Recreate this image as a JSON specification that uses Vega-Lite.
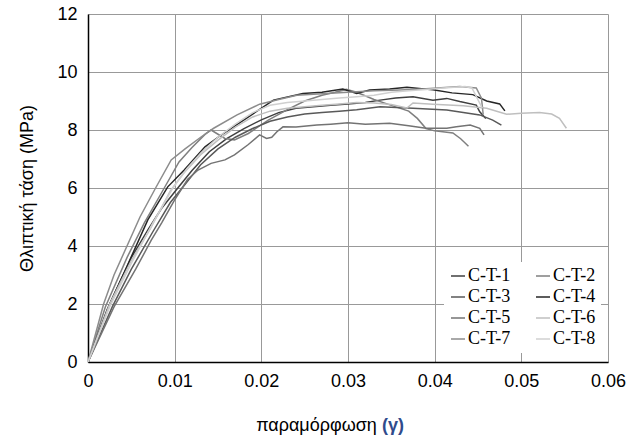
{
  "$schema": "https://vega.github.io/schema/vega-lite/v6.json",
  "width": 520,
  "height": 348,
  "autosize": {"type": "none"},
  "padding": {"left": 88, "top": 14, "right": 21, "bottom": 74},
  "background": "white",
  "config": {
    "view": {"stroke": null},
    "font": "Liberation Sans"
  },
  "title": {
    "text": "(γ)",
    "orient": "bottom",
    "anchor": "middle",
    "frame": "group",
    "dx": 45,
    "dy": -21,
    "fontSize": 18,
    "fontWeight": "bold",
    "color": "#2f4b8c",
    "font": "Liberation Sans"
  },
  "data": {
    "values": [
      {"s":"C-T-1","x":0,"y":0},{"s":"C-T-1","x":0.0025,"y":2.0},{"s":"C-T-1","x":0.005,"y":3.6},{"s":"C-T-1","x":0.007,"y":4.6},{"s":"C-T-1","x":0.0085,"y":5.3},{"s":"C-T-1","x":0.0105,"y":6.05},{"s":"C-T-1","x":0.012,"y":6.6},{"s":"C-T-1","x":0.014,"y":7.25},{"s":"C-T-1","x":0.016,"y":7.7},{"s":"C-T-1","x":0.018,"y":8.05},{"s":"C-T-1","x":0.02,"y":8.35},{"s":"C-T-1","x":0.022,"y":8.6},{"s":"C-T-1","x":0.024,"y":8.75},{"s":"C-T-1","x":0.026,"y":8.8},{"s":"C-T-1","x":0.028,"y":8.85},{"s":"C-T-1","x":0.03,"y":8.9},{"s":"C-T-1","x":0.032,"y":8.95},{"s":"C-T-1","x":0.0337,"y":9.03},{"s":"C-T-1","x":0.0355,"y":9.1},{"s":"C-T-1","x":0.0375,"y":9.15},{"s":"C-T-1","x":0.0398,"y":9.03},{"s":"C-T-1","x":0.0414,"y":9.09},{"s":"C-T-1","x":0.0429,"y":8.98},{"s":"C-T-1","x":0.0448,"y":8.86},{"s":"C-T-1","x":0.0452,"y":8.63},{"s":"C-T-1","x":0.0459,"y":8.4},
      {"s":"C-T-2","x":0,"y":0},{"s":"C-T-2","x":0.002,"y":1.9},{"s":"C-T-2","x":0.0045,"y":3.6},{"s":"C-T-2","x":0.0065,"y":4.8},{"s":"C-T-2","x":0.0088,"y":6.0},{"s":"C-T-2","x":0.0105,"y":6.9},{"s":"C-T-2","x":0.012,"y":7.4},{"s":"C-T-2","x":0.0135,"y":7.85},{"s":"C-T-2","x":0.0142,"y":8.0},{"s":"C-T-2","x":0.0158,"y":7.71},{"s":"C-T-2","x":0.0169,"y":7.66},{"s":"C-T-2","x":0.0185,"y":7.88},{"s":"C-T-2","x":0.0208,"y":8.34},{"s":"C-T-2","x":0.023,"y":8.7},{"s":"C-T-2","x":0.025,"y":9.0},{"s":"C-T-2","x":0.027,"y":9.2},{"s":"C-T-2","x":0.0285,"y":9.3},{"s":"C-T-2","x":0.0298,"y":9.4},{"s":"C-T-2","x":0.031,"y":9.3},{"s":"C-T-2","x":0.033,"y":9.05},{"s":"C-T-2","x":0.035,"y":8.85},{"s":"C-T-2","x":0.037,"y":8.65},{"s":"C-T-2","x":0.038,"y":8.4},{"s":"C-T-2","x":0.039,"y":8.05},{"s":"C-T-2","x":0.04,"y":7.97},{"s":"C-T-2","x":0.0421,"y":7.9},{"s":"C-T-2","x":0.043,"y":7.7},{"s":"C-T-2","x":0.0439,"y":7.44},
      {"s":"C-T-3","x":0,"y":0},{"s":"C-T-3","x":0.0028,"y":1.9},{"s":"C-T-3","x":0.005,"y":3.2},{"s":"C-T-3","x":0.0075,"y":4.5},{"s":"C-T-3","x":0.0095,"y":5.5},{"s":"C-T-3","x":0.011,"y":6.05},{"s":"C-T-3","x":0.013,"y":6.8},{"s":"C-T-3","x":0.015,"y":7.35},{"s":"C-T-3","x":0.017,"y":7.75},{"s":"C-T-3","x":0.019,"y":8.05},{"s":"C-T-3","x":0.021,"y":8.3},{"s":"C-T-3","x":0.023,"y":8.45},{"s":"C-T-3","x":0.025,"y":8.55},{"s":"C-T-3","x":0.027,"y":8.6},{"s":"C-T-3","x":0.029,"y":8.65},{"s":"C-T-3","x":0.031,"y":8.7},{"s":"C-T-3","x":0.0337,"y":8.8},{"s":"C-T-3","x":0.0375,"y":8.75},{"s":"C-T-3","x":0.0414,"y":8.69},{"s":"C-T-3","x":0.0452,"y":8.52},{"s":"C-T-3","x":0.0467,"y":8.34},{"s":"C-T-3","x":0.0477,"y":8.17},
      {"s":"C-T-4","x":0,"y":0},{"s":"C-T-4","x":0.0022,"y":1.8},{"s":"C-T-4","x":0.0045,"y":3.3},{"s":"C-T-4","x":0.0069,"y":4.9},{"s":"C-T-4","x":0.0092,"y":6.04},{"s":"C-T-4","x":0.0111,"y":6.62},{"s":"C-T-4","x":0.0135,"y":7.42},{"s":"C-T-4","x":0.015,"y":7.75},{"s":"C-T-4","x":0.017,"y":8.15},{"s":"C-T-4","x":0.019,"y":8.55},{"s":"C-T-4","x":0.0214,"y":9.03},{"s":"C-T-4","x":0.0248,"y":9.26},{"s":"C-T-4","x":0.027,"y":9.3},{"s":"C-T-4","x":0.0294,"y":9.41},{"s":"C-T-4","x":0.031,"y":9.26},{"s":"C-T-4","x":0.0325,"y":9.38},{"s":"C-T-4","x":0.0348,"y":9.41},{"s":"C-T-4","x":0.0368,"y":9.47},{"s":"C-T-4","x":0.0385,"y":9.42},{"s":"C-T-4","x":0.0398,"y":9.39},{"s":"C-T-4","x":0.042,"y":9.28},{"s":"C-T-4","x":0.0444,"y":9.22},{"s":"C-T-4","x":0.046,"y":9.0},{"s":"C-T-4","x":0.0475,"y":8.9},{"s":"C-T-4","x":0.0481,"y":8.66},
      {"s":"C-T-5","x":0,"y":0},{"s":"C-T-5","x":0.003,"y":1.9},{"s":"C-T-5","x":0.0055,"y":3.2},{"s":"C-T-5","x":0.0073,"y":4.2},{"s":"C-T-5","x":0.0085,"y":4.8},{"s":"C-T-5","x":0.01,"y":5.59},{"s":"C-T-5","x":0.0115,"y":6.3},{"s":"C-T-5","x":0.0127,"y":6.62},{"s":"C-T-5","x":0.0142,"y":6.85},{"s":"C-T-5","x":0.0158,"y":6.97},{"s":"C-T-5","x":0.0169,"y":7.14},{"s":"C-T-5","x":0.0185,"y":7.5},{"s":"C-T-5","x":0.0198,"y":7.83},{"s":"C-T-5","x":0.0206,"y":7.71},{"s":"C-T-5","x":0.0212,"y":7.75},{"s":"C-T-5","x":0.0218,"y":7.94},{"s":"C-T-5","x":0.0225,"y":8.11},{"s":"C-T-5","x":0.024,"y":8.1},{"s":"C-T-5","x":0.0264,"y":8.17},{"s":"C-T-5","x":0.028,"y":8.2},{"s":"C-T-5","x":0.03,"y":8.25},{"s":"C-T-5","x":0.032,"y":8.2},{"s":"C-T-5","x":0.0348,"y":8.23},{"s":"C-T-5","x":0.037,"y":8.15},{"s":"C-T-5","x":0.039,"y":8.06},{"s":"C-T-5","x":0.0414,"y":8.06},{"s":"C-T-5","x":0.0425,"y":8.11},{"s":"C-T-5","x":0.0441,"y":8.17},{"s":"C-T-5","x":0.0452,"y":8.06},{"s":"C-T-5","x":0.0457,"y":7.83},
      {"s":"C-T-6","x":0,"y":0},{"s":"C-T-6","x":0.0025,"y":2.0},{"s":"C-T-6","x":0.005,"y":3.5},{"s":"C-T-6","x":0.0072,"y":4.6},{"s":"C-T-6","x":0.0095,"y":5.9},{"s":"C-T-6","x":0.011,"y":6.5},{"s":"C-T-6","x":0.013,"y":7.15},{"s":"C-T-6","x":0.015,"y":7.65},{"s":"C-T-6","x":0.017,"y":8.1},{"s":"C-T-6","x":0.019,"y":8.45},{"s":"C-T-6","x":0.021,"y":8.65},{"s":"C-T-6","x":0.023,"y":8.75},{"s":"C-T-6","x":0.025,"y":8.8},{"s":"C-T-6","x":0.027,"y":8.85},{"s":"C-T-6","x":0.029,"y":8.9},{"s":"C-T-6","x":0.031,"y":8.95},{"s":"C-T-6","x":0.033,"y":8.93},{"s":"C-T-6","x":0.035,"y":8.88},{"s":"C-T-6","x":0.0368,"y":8.76},{"s":"C-T-6","x":0.0375,"y":8.93},{"s":"C-T-6","x":0.0398,"y":8.89},{"s":"C-T-6","x":0.0433,"y":8.84},{"s":"C-T-6","x":0.046,"y":8.75},{"s":"C-T-6","x":0.0483,"y":8.54},{"s":"C-T-6","x":0.05,"y":8.58},{"s":"C-T-6","x":0.0521,"y":8.6},{"s":"C-T-6","x":0.0535,"y":8.55},{"s":"C-T-6","x":0.0544,"y":8.4},{"s":"C-T-6","x":0.0552,"y":8.06},
      {"s":"C-T-7","x":0,"y":0},{"s":"C-T-7","x":0.0018,"y":2.0},{"s":"C-T-7","x":0.003,"y":3.0},{"s":"C-T-7","x":0.0045,"y":4.0},{"s":"C-T-7","x":0.006,"y":5.0},{"s":"C-T-7","x":0.0078,"y":6.0},{"s":"C-T-7","x":0.0096,"y":6.97},{"s":"C-T-7","x":0.0112,"y":7.35},{"s":"C-T-7","x":0.013,"y":7.75},{"s":"C-T-7","x":0.0145,"y":8.06},{"s":"C-T-7","x":0.0172,"y":8.52},{"s":"C-T-7","x":0.0198,"y":8.89},{"s":"C-T-7","x":0.022,"y":9.05},{"s":"C-T-7","x":0.0241,"y":9.2},{"s":"C-T-7","x":0.027,"y":9.25},{"s":"C-T-7","x":0.03,"y":9.3},{"s":"C-T-7","x":0.033,"y":9.35},{"s":"C-T-7","x":0.036,"y":9.38},{"s":"C-T-7","x":0.039,"y":9.42},{"s":"C-T-7","x":0.0429,"y":9.5},{"s":"C-T-7","x":0.0448,"y":9.45},{"s":"C-T-7","x":0.0454,"y":9.1},{"s":"C-T-7","x":0.0456,"y":8.53},
      {"s":"C-T-8","x":0,"y":0},{"s":"C-T-8","x":0.0025,"y":1.9},{"s":"C-T-8","x":0.005,"y":3.4},{"s":"C-T-8","x":0.0075,"y":4.8},{"s":"C-T-8","x":0.0098,"y":6.0},{"s":"C-T-8","x":0.0115,"y":6.7},{"s":"C-T-8","x":0.013,"y":7.2},{"s":"C-T-8","x":0.015,"y":7.75},{"s":"C-T-8","x":0.017,"y":8.2},{"s":"C-T-8","x":0.019,"y":8.6},{"s":"C-T-8","x":0.021,"y":8.85},{"s":"C-T-8","x":0.023,"y":8.95},{"s":"C-T-8","x":0.025,"y":9.0},{"s":"C-T-8","x":0.027,"y":9.05},{"s":"C-T-8","x":0.029,"y":9.1},{"s":"C-T-8","x":0.031,"y":9.15},{"s":"C-T-8","x":0.033,"y":9.2},{"s":"C-T-8","x":0.035,"y":9.3},{"s":"C-T-8","x":0.037,"y":9.35},{"s":"C-T-8","x":0.039,"y":9.4},{"s":"C-T-8","x":0.041,"y":9.45},{"s":"C-T-8","x":0.0435,"y":9.5},{"s":"C-T-8","x":0.0443,"y":9.45},{"s":"C-T-8","x":0.0449,"y":9.1},{"s":"C-T-8","x":0.0455,"y":8.75}
    ]
  },
  "mark": {"type": "line", "strokeWidth": 1.5, "clip": true},
  "encoding": {
    "x": {
      "field": "x",
      "type": "quantitative",
      "scale": {"domain": [0, 0.06], "nice": false, "zero": true},
      "axis": {
        "title": "παραμόρφωση",
        "titleX": 228,
        "titleFont": "Liberation Sans",
        "titleFontSize": 18,
        "titleFontWeight": "normal",
        "titleColor": "#000",
        "titlePadding": 26,
        "values": [0, 0.01, 0.02, 0.03, 0.04, 0.05, 0.06],
        "format": ".2~f",
        "labelFontSize": 18,
        "labelColor": "#000",
        "labelPadding": 10,
        "labelFlush": false,
        "ticks": false,
        "tickSize": 0,
        "grid": true,
        "gridColor": "#999999",
        "gridWidth": 1,
        "domainColor": "#000",
        "domainWidth": 1.5
      }
    },
    "y": {
      "field": "y",
      "type": "quantitative",
      "scale": {"domain": [0, 12], "nice": false},
      "axis": {
        "title": "Θλιπτική τάση (MPa)",
        "titleFont": "Liberation Sans",
        "titleFontSize": 18,
        "titleFontWeight": "normal",
        "titleColor": "#000",
        "titlePadding": 20,
        "values": [0, 2, 4, 6, 8, 10, 12],
        "labelFontSize": 18,
        "labelColor": "#000",
        "labelPadding": 11,
        "labelFlush": false,
        "ticks": false,
        "tickSize": 0,
        "grid": true,
        "gridColor": "#999999",
        "gridWidth": 1,
        "domainColor": "#000",
        "domainWidth": 1.5
      }
    },
    "color": {
      "field": "s",
      "type": "nominal",
      "scale": {
        "domain": ["C-T-1","C-T-2","C-T-3","C-T-4","C-T-5","C-T-6","C-T-7","C-T-8"],
        "range": ["#404040","#7f7f7f","#595959","#262626","#737373","#bfbfbf","#8c8c8c","#d0d0d0"]
      },
      "legend": {
        "title": null,
        "orient": "none",
        "legendX": 356,
        "legendY": 248,
        "direction": "horizontal",
        "columns": 2,
        "columnPadding": 22,
        "rowPadding": 3,
        "padding": 5,
        "fillColor": "white",
        "strokeColor": null,
        "symbolType": "stroke",
        "symbolSize": 196,
        "symbolStrokeWidth": 1.5,
        "labelFont": "Liberation Serif",
        "labelFontSize": 18,
        "labelColor": "#000",
        "labelOffset": 1
      }
    }
  }
}
